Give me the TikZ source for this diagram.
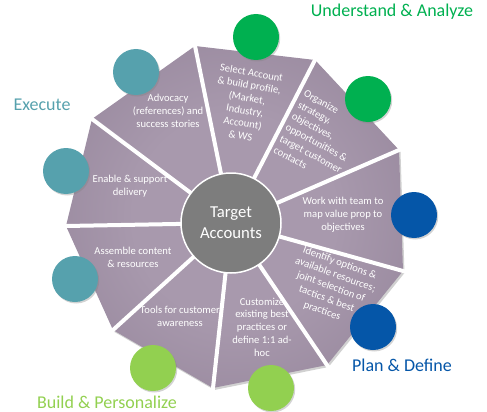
\documentclass[tikz,border=0pt]{standalone}
\usepackage{fontspec}
\setmainfont{Carlito}
\usetikzlibrary{shadows}
\definecolor{SegLight}{RGB}{168,153,173}
\definecolor{SegDark}{RGB}{131,114,137}
\definecolor{HubGray}{RGB}{125,125,125}
\definecolor{AnalyzeGreen}{RGB}{0,176,80}
\definecolor{DefineBlue}{RGB}{5,86,168}
\definecolor{BuildGreen}{RGB}{146,208,80}
\definecolor{ExecTeal}{RGB}{86,161,173}
\pgfdeclareradialshading{wheelshade}{\pgfpoint{0bp}{0bp}}{color(0bp)=(SegLight); color(15bp)=(SegLight); color(52bp)=(SegDark); color(75bp)=(SegDark)}

\begin{document}
\begin{tikzpicture}[x=1pt,y=-1pt,
  segtext/.style={text=white,align=center,inner sep=0pt,font=\fontsize{10.6}{12.8}\selectfont},
  dot/.style={circle,minimum size=46pt,inner sep=0pt,drop shadow={shadow xshift=1.2pt,shadow yshift=-1.5pt,opacity=0.35}},
  phase/.style={inner sep=0pt,font=\fontsize{18}{21}\selectfont}]
\useasboundingbox (0,0) rectangle (487,412);
\coordinate (c) at (231,223);
\coordinate (v1) at (195,46);
\coordinate (v2) at (315,60);
\coordinate (v3) at (399,150);
\coordinate (v4) at (403,271);
\coordinate (v5) at (327,365);
\coordinate (v6) at (213,388);
\coordinate (v7) at (113,330);
\coordinate (v8) at (66,226);
\coordinate (v9) at (92,119);
\fill[black,opacity=0.18] ([shift={(1.5,2)}]v1) -- ([shift={(1.5,2)}]v2) -- ([shift={(1.5,2)}]v3) -- ([shift={(1.5,2)}]v4) -- ([shift={(1.5,2)}]v5) -- ([shift={(1.5,2)}]v6) -- ([shift={(1.5,2)}]v7) -- ([shift={(1.5,2)}]v8) -- ([shift={(1.5,2)}]v9) -- cycle;
\shade[shading=wheelshade] (v1) -- (v2) -- (v3) -- (v4) -- (v5) -- (v6) -- (v7) -- (v8) -- (v9) -- cycle;
\foreach \v in {v1,v2,v3,v4,v5,v6,v7,v8,v9}
  \draw[white,line width=4pt,shorten >=-4pt] (c) -- (\v);
\node[circle,fill=HubGray,draw=white,line width=1.5pt,minimum size=100pt,text=white,align=center,font=\fontsize{16.7}{20.7}\selectfont] (hub) at (c) {Target\\Accounts};

\node[segtext] (advocacy) at (168,111) {Advocacy\\(references) and\\success stories};
\node[segtext,rotate=-10] (select) at (246,104) {Select Account\\\& build profile,\\(Market,\\Industry,\\Account)\\\& WS};
\node[segtext,rotate=-28,align=left] (organize) at (320,137) {Organize\\strategy,\\objectives,\\opportunities \&\\target customer\\contacts};
\node[segtext] (work) at (343,215) {Work with team to\\map value prop to\\objectives};
\node[segtext,rotate=-20] (identify) at (331,287) {Identify options \&\\available resources;\\joint selection of\\tactics \& best\\practices};
\node[segtext] (customize) at (262,327) {Customize\\existing best\\practices or\\define 1:1 ad-\\hoc};
\node[segtext] (tools) at (180,316) {Tools for customer\\awareness};
\node[segtext] (assemble) at (133,257) {Assemble content\\\& resources};
\node[segtext] (enable) at (130,186) {Enable \& support\\delivery};

\node[dot,fill=AnalyzeGreen] (ua1) at (256,37) {};
\node[dot,fill=AnalyzeGreen] (ua2) at (368,99) {};
\node[dot,fill=DefineBlue] (pd1) at (414,215) {};
\node[dot,fill=DefineBlue] (pd2) at (373,327) {};
\node[dot,fill=BuildGreen] (bp1) at (271,388) {};
\node[dot,fill=BuildGreen] (bp2) at (153,368) {};
\node[dot,fill=ExecTeal] (ex1) at (75,279) {};
\node[dot,fill=ExecTeal] (ex2) at (66,171) {};
\node[dot,fill=ExecTeal] (ex3) at (136,72) {};

\node[phase,text=AnalyzeGreen] (analyze) at (392,12) {Understand \& Analyze};
\node[phase,text=ExecTeal] (execute) at (42,105) {Execute};
\node[phase,text=DefineBlue] (define) at (402,365.5) {Plan \& Define};
\node[phase,text=BuildGreen] (build) at (107,402) {Build \& Personalize};
\end{tikzpicture}
\end{document}
